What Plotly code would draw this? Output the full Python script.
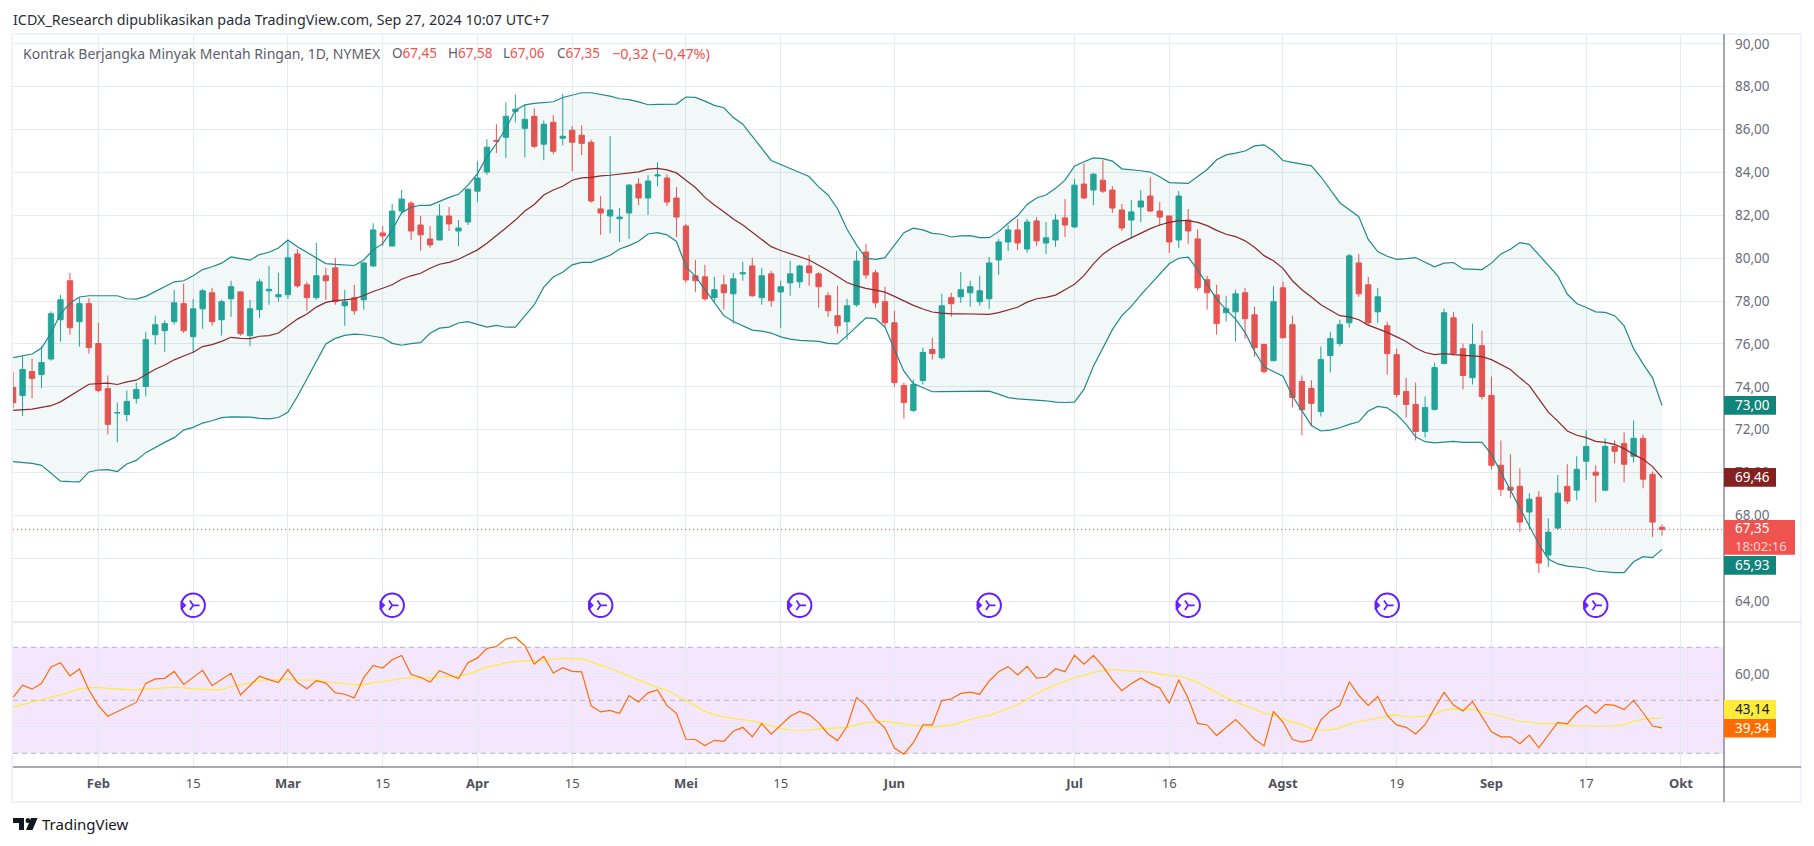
import pandas as pd
import plotly.graph_objects as go

# ---- trading calendar -------------------------------------------------
holidays = ["2024-02-19", "2024-03-29", "2024-05-27", "2024-06-19", "2024-07-04", "2024-09-02"]
dates = [d.strftime("%Y-%m-%d") for d in pd.bdate_range("2024-01-19", "2024-10-10") if d.strftime("%Y-%m-%d") not in holidays]

tick_dates = ["2024-02-01", "2024-02-15", "2024-03-01", "2024-03-15", "2024-04-01", "2024-04-15", "2024-05-01", "2024-05-15",
              "2024-06-03", "2024-07-01", "2024-07-16", "2024-08-01", "2024-08-19", "2024-09-03", "2024-09-17", "2024-10-01"]
tick_labels = ["<b>Feb</b>", "15", "<b>Mar</b>", "15", "<b>Apr</b>", "15", "<b>Mei</b>", "15",
               "<b>Jun</b>", "<b>Jul</b>", "16", "<b>Agst</b>", "19", "<b>Sep</b>", "17", "<b>Okt</b>"]
price_ticks = [64, 66, 68, 70, 72, 74, 76, 78, 80, 82, 84, 86, 88, 90]
price_tick_labels = ["64,00", "", "68,00", "70,00", "72,00", "74,00", "76,00", "78,00", "80,00", "82,00", "84,00", "86,00", "88,00", "90,00"]
rsi_ticks = [40, 60]
rsi_tick_labels = ["", "60,00"]

# ---- OHLC ---------------------------------------------------------------
opens = [73.97,73.6,74.71,74.57,75.30,77.13,78.95,77.04,77.88,76.02,
73.92,72.78,72.71,73.46,74.02,76.43,76.62,77.04,77.88,76.34,
77.64,78.39,77.13,78.11,78.43,76.39,77.6,78.48,78.2,78.3,
80.2,78.76,78.16,79.18,79.55,77.78,78.16,78.06,79.64,81.18,
80.57,82.2,82.57,81.55,80.9,80.85,81.97,81.27,81.69,83.13,
84.02,85.5,85.64,86.85,86.06,86.62,85.32,86.34,85.6,85.97,
85.74,85.41,82.3,81.97,81.84,82.11,83.46,82.81,83.84,83.74,
82.81,81.5,79.18,79.13,78.16,78.76,78.34,79.27,79.64,78.16,
79.27,78.43,78.85,78.9,79.64,79.27,78.25,77.32,77.04,77.83,
80.29,79.32,77.97,76.99,74.06,72.9,74.29,75.74,75.36,78.16,
78.2,78.39,77.97,78.11,79.92,80.76,81.32,80.43,81.74,80.71,
80.85,81.88,81.46,83.46,83.18,83.64,83.18,82.25,81.78,82.39,
82.9,82.2,81.97,80.85,81.78,80.9,79.0,78.29,77.46,77.5,
78.39,77.36,75.97,75.22,78.62,76.9,74.25,73.93,72.85,75.46,
76.02,76.99,79.78,78.76,77.5,76.85,75.5,73.78,73.18,71.92,
72.95,75.09,77.22,75.78,74.43,75.92,73.6,70.34,69.32,69.36,
68.16,68.85,66.15,67.41,69.36,69.18,70.53,70.02,69.18,71.22,
71.36,70.76,71.6,69.92,67.45]
highs = [74.68,75.43,75.32,75.89,77.52,78.29,79.32,78.14,78.14,76.99,
74.53,73.27,73.83,74.2,76.57,77.32,77.1,78.53,78.81,78.1,
78.57,78.62,78.06,78.95,78.45,78.06,79.04,79.64,79.32,80.85,
80.43,78.9,80.71,79.55,80.02,78.53,78.76,79.8,81.63,81.5,
82.53,83.18,82.67,81.97,81.5,82.53,82.39,81.78,83.25,84.53,
85.55,86.25,87.27,87.64,87.13,86.99,86.43,86.67,87.67,86.16,
86.2,85.53,82.9,85.69,82.34,83.46,83.74,83.88,84.48,83.92,
83.32,81.6,79.92,79.69,79.13,79.22,79.32,79.83,80.02,79.55,
79.41,78.95,79.87,79.69,80.15,79.36,78.43,78.71,78.11,80.34,
80.67,79.46,78.67,77.55,74.2,74.34,75.83,76.29,78.34,78.39,
79.36,78.95,79.18,80.06,80.9,81.55,81.83,81.83,81.92,81.69,
82.06,82.76,83.69,84.43,83.97,84.57,83.36,82.53,82.71,83.18,
83.78,82.62,81.97,83.13,82.29,81.35,79.18,78.76,78.25,78.53,
78.62,77.74,76.02,78.71,78.9,77.32,74.53,74.31,75.88,76.57,
77.13,80.2,80.2,79.13,78.62,77.04,75.78,74.43,74.2,73.55,
75.13,77.64,77.5,76.02,76.95,76.62,74.48,71.5,70.85,70.2,
69.04,69.13,67.87,69.88,70.39,70.76,71.97,70.34,71.6,71.5,
71.88,72.43,71.78,70.06,67.58]
lows = [73.0,72.64,73.46,73.95,75.22,76.11,76.43,75.88,75.55,73.74,
71.78,71.41,72.39,73.22,73.55,75.97,75.63,76.9,76.51,75.58,
76.71,76.85,76.39,77.27,76.39,75.89,77.22,77.83,77.97,78.11,
78.62,77.55,78.06,78.06,77.83,76.85,77.36,77.6,79.6,80.57,
80.55,82.06,80.85,80.34,80.48,80.85,81.27,80.57,81.55,82.62,
83.88,84.91,84.67,86.34,84.71,85.13,84.57,84.85,85.26,84.06,
84.81,82.59,81.09,81.16,80.76,80.9,82.48,82.02,83.36,82.43,
80.99,78.85,78.43,78.02,77.97,77.6,76.95,78.95,78.2,77.83,
77.74,76.76,78.25,78.62,78.71,77.69,77.27,76.48,76.2,77.74,
79.04,77.69,76.76,74.01,72.52,72.82,74.11,75.27,75.27,77.27,
77.92,77.74,77.78,77.64,79.22,80.34,80.39,80.25,80.57,80.2,
80.53,80.99,81.41,82.76,82.48,83.04,82.11,81.27,80.95,81.69,
82.16,81.5,80.25,80.48,80.67,78.5,77.6,76.43,77.04,76.11,
76.25,75.41,74.62,75.2,76.27,73.04,71.74,72.2,72.62,74.67,
75.88,76.76,78.2,76.85,76.99,74.57,73.5,72.57,71.5,71.64,
72.9,75.05,75.46,73.88,74.11,73.41,70.15,68.9,68.81,67.22,
67.36,65.32,65.6,67.32,68.53,68.71,69.64,68.62,69.15,70.43,
69.55,70.48,69.27,67.0,67.06]
closes = [73.26,74.81,74.39,75.13,77.41,78.06,76.76,77.88,75.83,73.83,
72.25,72.8,73.32,73.88,76.2,76.9,76.95,77.92,76.62,77.64,
78.48,77.04,77.97,78.67,76.48,77.64,78.9,78.55,78.3,80.02,
78.71,78.16,79.18,78.95,77.97,77.97,77.55,79.78,81.32,81.04,
82.2,82.76,81.27,81.09,80.62,81.97,81.6,81.41,83.22,83.74,
85.18,85.46,86.62,86.95,86.48,85.22,86.25,84.99,85.69,85.41,
85.36,82.67,82.11,82.25,81.92,83.41,82.81,83.6,83.88,82.62,
81.92,78.99,78.95,78.11,78.53,78.39,79.04,79.32,78.25,79.18,
78.02,78.67,79.27,79.64,79.32,78.67,77.55,76.85,77.78,79.87,
79.22,77.92,76.99,74.2,73.27,74.11,75.6,75.55,77.78,77.88,
78.53,78.67,78.48,79.78,80.76,81.32,80.71,81.69,80.81,80.95,
81.78,81.55,83.41,82.81,83.92,83.13,82.34,81.41,82.16,82.67,
82.2,81.92,80.76,82.9,81.27,78.62,78.39,76.95,77.64,78.34,
77.18,75.83,74.71,77.97,76.29,73.5,72.93,73.23,75.27,76.25,
76.9,80.11,78.34,76.99,78.2,75.55,73.64,73.18,71.92,73.04,
74.9,77.46,75.55,74.53,75.97,73.55,70.34,69.22,69.18,67.69,
68.76,65.78,67.22,69.04,68.67,70.15,71.22,69.88,71.22,70.99,
70.39,71.6,69.69,67.69,67.35]

# ---- Bollinger bands ----------------------------------------------------
bb_upper = [75.36,75.46,75.53,75.81,76.51,77.41,77.9,78.19,78.25,78.25,
78.25,78.25,78.11,78.09,78.22,78.45,78.65,78.9,78.95,79.18,
79.47,79.6,79.77,80.06,79.98,79.91,80.17,80.28,80.48,80.85,
80.54,80.28,80.05,79.75,79.71,79.69,79.66,79.92,80.4,80.68,
81.32,82.12,82.37,82.47,82.47,82.65,82.84,82.98,83.41,83.95,
84.73,85.35,86.05,86.9,87.15,87.22,87.27,87.3,87.5,87.61,
87.72,87.72,87.64,87.56,87.44,87.4,87.29,87.16,87.18,87.18,
87.19,87.52,87.5,87.33,87.13,87.02,86.56,86.25,85.69,85.16,
84.56,84.37,84.2,84.0,83.81,83.33,82.95,82.31,81.35,80.62,
80.0,79.95,80.03,80.62,81.19,81.4,81.32,81.16,81.12,80.99,
81.04,81.05,80.96,80.96,81.24,81.63,81.98,82.51,82.81,82.95,
83.26,83.64,84.29,84.5,84.68,84.65,84.53,84.17,84.14,84.08,
84.02,83.8,83.53,83.52,83.49,83.81,84.14,84.59,84.82,84.9,
85.0,85.24,85.29,85.0,84.56,84.47,84.4,84.31,83.8,83.21,
82.59,82.26,81.94,80.88,80.31,80.09,79.95,79.98,80.03,79.81,
79.6,79.77,79.8,79.5,79.47,79.47,79.77,80.2,80.42,80.73,
80.65,80.17,79.64,79.18,78.33,77.89,77.7,77.5,77.47,77.32,
76.85,75.78,75.07,74.42,73.13]
bb_basis = [72.9,72.93,72.96,73.04,73.12,73.3,73.58,73.86,74.12,74.15,
74.17,74.11,74.23,74.31,74.56,74.82,75.02,75.26,75.44,75.61,
75.88,75.97,76.12,76.31,76.26,76.25,76.36,76.39,76.51,76.85,
77.16,77.4,77.72,77.94,78.02,78.06,78.11,78.26,78.45,78.6,
78.76,79.02,79.18,79.3,79.53,79.72,79.81,79.95,80.16,80.39,
80.7,81.04,81.41,81.78,82.2,82.51,82.95,83.18,83.36,83.64,
83.75,83.77,83.84,83.87,83.92,83.97,84.03,84.16,84.19,84.12,
83.98,83.64,83.3,82.84,82.48,82.17,81.83,81.55,81.21,80.9,
80.54,80.36,80.22,80.08,79.92,79.67,79.43,79.15,78.87,78.71,
78.59,78.51,78.42,78.22,78.0,77.8,77.63,77.49,77.44,77.4,
77.41,77.4,77.36,77.38,77.46,77.57,77.71,77.95,78.11,78.17,
78.28,78.53,78.79,79.19,79.74,80.19,80.5,80.74,80.96,81.19,
81.38,81.55,81.67,81.75,81.75,81.67,81.52,81.3,81.12,81.01,
80.81,80.51,80.12,79.88,79.53,78.95,78.53,78.19,77.83,77.57,
77.32,77.26,77.13,76.88,76.71,76.54,76.33,76.12,75.81,75.6,
75.5,75.55,75.5,75.46,75.43,75.41,75.27,75.04,74.81,74.42,
74.06,73.44,72.82,72.4,71.94,71.74,71.63,71.46,71.41,71.32,
71.12,70.85,70.62,70.28,69.76]
bb_lower = [70.51,70.48,70.43,70.34,69.98,69.6,69.58,69.57,70.03,70.12,
70.14,70.05,70.4,70.57,70.93,71.19,71.41,71.63,71.98,72.11,
72.31,72.42,72.56,72.6,72.6,72.59,72.53,72.51,72.57,72.81,
73.55,74.37,75.19,76.0,76.26,76.4,76.46,76.43,76.36,76.29,
76.03,75.94,76.02,76.06,76.5,76.74,76.79,76.98,77.04,76.9,
76.79,76.87,76.78,76.79,77.29,77.83,78.65,79.12,79.35,79.69,
79.81,79.81,79.97,80.14,80.43,80.59,80.79,81.13,81.19,81.09,
80.78,79.61,79.15,78.53,77.9,77.32,77.05,76.85,76.65,76.6,
76.51,76.33,76.23,76.17,76.14,76.12,76.03,76.0,76.39,76.82,
77.22,77.18,76.79,75.74,74.73,74.15,73.97,73.77,73.78,73.78,
73.8,73.8,73.8,73.8,73.66,73.5,73.44,73.41,73.4,73.35,
73.29,73.27,73.29,73.88,74.96,75.81,76.67,77.32,77.75,78.29,
78.76,79.27,79.74,80.0,80.05,79.46,78.76,78.09,77.6,77.16,
76.54,75.66,74.93,74.73,74.5,73.57,72.87,72.2,71.94,71.98,
72.09,72.25,72.37,72.87,73.09,73.02,72.71,72.25,71.67,71.44,
71.39,71.43,71.46,71.41,71.41,71.41,70.85,70.0,69.15,68.37,
67.52,66.67,65.97,65.74,65.64,65.58,65.55,65.41,65.36,65.33,
65.33,65.84,66.08,66.03,66.42]

# ---- RSI ------------------------------------------------------------------
rsi = [51.1,55.7,54.2,56.4,62.6,64.2,59.2,61.8,53.9,48.0,
44.0,45.8,47.5,49.2,56.4,58.1,58.3,60.9,56.0,58.7,
61.3,55.5,57.9,60.2,52.0,55.4,59.1,57.8,56.7,61.6,
56.7,54.4,57.4,56.5,52.8,52.3,50.9,58.6,63.2,62.2,
65.3,66.9,59.7,58.7,56.8,61.2,59.6,58.2,64.2,66.0,
69.6,70.3,73.1,73.8,70.6,63.7,66.6,60.3,62.3,60.9,
60.7,47.9,45.6,46.2,45.0,51.8,49.4,52.8,53.9,48.0,
45.1,35.3,35.2,32.9,34.9,34.5,38.3,39.8,36.2,41.2,
37.2,40.6,44.0,45.8,44.6,41.6,37.3,34.8,40.1,51.0,
48.1,42.8,39.6,32.0,29.7,34.0,40.7,40.7,49.9,50.5,
52.6,53.1,52.3,57.3,60.8,62.7,59.6,62.8,58.4,58.7,
61.9,60.8,67.0,63.6,67.0,62.8,57.7,53.6,56.3,58.4,
56.3,54.7,48.9,57.7,50.8,41.3,40.7,36.7,39.7,42.7,
39.2,35.3,32.8,45.8,41.7,35.2,34.2,35.0,42.6,46.0,
48.0,57.0,51.8,48.1,51.4,44.3,40.7,39.8,37.3,40.8,
47.0,53.0,48.2,46.0,49.5,43.8,38.1,36.2,36.2,33.6,
36.9,32.1,36.9,41.7,41.1,45.3,48.0,45.0,48.5,48.1,
46.5,50.0,45.3,40.3,39.6]
rsi_ma = [47.4,48.5,49.4,50.1,51.1,52.0,53.1,54.3,54.8,54.8,
54.5,54.3,54.0,53.9,54.3,54.4,54.7,55.0,54.7,54.3,
54.2,53.9,54.0,55.2,55.8,56.5,57.4,57.8,57.9,57.9,
57.7,57.6,57.6,57.0,56.7,56.3,55.9,55.9,56.7,57.0,
57.7,58.3,58.4,58.3,58.4,58.8,58.9,59.1,59.9,61.1,
62.5,63.2,64.1,64.7,65.0,65.0,65.1,65.5,65.7,65.7,
65.7,64.6,63.2,62.1,60.6,59.3,57.7,56.2,54.8,53.8,
52.0,49.9,47.9,45.8,44.5,43.7,43.1,42.7,42.2,41.4,
40.3,39.4,38.8,38.7,38.7,39.2,39.3,39.4,39.7,40.8,
41.6,41.8,42.1,41.6,41.1,40.4,40.1,39.9,40.2,40.7,
41.6,42.8,43.8,44.3,45.5,46.9,48.2,50.4,52.5,54.3,
55.8,57.4,58.6,59.3,60.6,61.2,61.6,61.3,61.1,60.8,
60.6,59.9,59.3,59.1,58.1,56.8,54.9,53.1,51.0,49.5,
48.1,46.6,45.2,44.5,43.2,41.7,40.9,39.3,38.7,38.9,
39.6,41.1,41.9,42.5,43.3,44.1,44.5,43.8,43.7,44.1,
44.8,46.4,46.7,46.6,46.6,45.6,44.7,43.7,42.8,42.1,
41.8,41.2,41.2,41.2,40.8,40.3,40.3,40.2,40.2,40.4,
40.9,42.1,42.8,43.2,43.14]

# ---- dividend/event markers ---------------------------------------------
event_dates = ["2024-02-15", "2024-03-18", "2024-04-18", "2024-05-17", "2024-06-17", "2024-07-18", "2024-08-16", "2024-09-18"]
event_level = [63.81] * len(event_dates)

last_price = 67.35
bar_dates = dates[:len(closes)]

for series in (opens, highs, lows, closes, bb_upper, bb_basis, bb_lower, rsi, rsi_ma):
    assert len(series) == 175, len(series)

# ---- colours ---------------------------------------------------------------
UP, DOWN = "#26a69a", "#ef5350"
BAND = "#20898c"
BASIS = "#88292e"
GRID = "#e3ebf1"
AXIS = "#50535e"
TXT = "#5d606b"
FONT = "Noto Sans"

W, H = 1814, 846
L, R, T, B = 13, 1724, 34, 767
SPLIT = 622


def xp(px):
    return (px - L) / (R - L)


def yp(py):
    return (B - py) / (B - T)


fig = go.Figure()
fig.add_trace(go.Candlestick(x=bar_dates, open=opens, high=highs, low=lows, close=closes, whiskerwidth=0,
                             increasing=dict(line=dict(color=UP, width=1), fillcolor=UP),
                             decreasing=dict(line=dict(color=DOWN, width=1), fillcolor=DOWN),
                             hoverinfo="skip", showlegend=False))
fig.add_trace(go.Scatter(x=bar_dates, y=bb_lower, mode="lines", line=dict(color=BAND, width=1.2), showlegend=False))
fig.add_trace(go.Scatter(x=bar_dates, y=bb_upper, mode="lines", line=dict(color=BAND, width=1.2), fill="tonexty",
                         fillcolor="rgba(0,120,120,0.05)", showlegend=False))
fig.add_trace(go.Scatter(x=bar_dates, y=bb_basis, mode="lines", line=dict(color=BASIS, width=1.2), showlegend=False))
fig.add_trace(go.Scatter(x=event_dates, y=event_level, mode="markers", showlegend=False,
                         marker=dict(symbol="circle-open", size=23.5, color="#651fff", line=dict(width=2, color="#651fff"))))
fig.add_trace(go.Scatter(x=event_dates, y=event_level, mode="markers", showlegend=False,
                         marker=dict(symbol="y-right-open", size=8, color="#651fff", line=dict(width=1.7, color="#651fff"))))
fig.add_trace(go.Scatter(x=event_dates, y=event_level, mode="markers", showlegend=False,
                         marker=dict(symbol="arrow-wide-open", angle=90, standoff=8, size=6, color="#651fff",
                                     line=dict(width=1.7, color="#651fff"))))
fig.add_trace(go.Scatter(x=bar_dates, y=rsi_ma, mode="lines", xaxis="x2", yaxis="y2", line=dict(color="#ffeb3b", width=1.2), showlegend=False))
fig.add_trace(go.Scatter(x=bar_dates, y=rsi, mode="lines", xaxis="x2", yaxis="y2", line=dict(color="#ff6d00", width=1.2), showlegend=False))

x_range = [-0.01, 180.54]
split_frac = (B - SPLIT) / (B - T)
x_common = dict(type="category", categoryorder="array", categoryarray=dates, range=x_range, tickmode="array",
                tickvals=tick_dates, showgrid=True, gridcolor=GRID, gridwidth=1, zeroline=False, showline=False, ticks="")
fig.update_layout(
    width=W, height=H, margin=dict(l=L, r=W - R, t=T, b=H - B, pad=0, autoexpand=False),
    paper_bgcolor="white", plot_bgcolor="white", separators=",.",
    font=dict(family=FONT, size=13, color=TXT), showlegend=False, hovermode=False, boxgap=0.2,
    xaxis=dict(x_common, domain=[0, 1], anchor="y", showticklabels=False, rangeslider=dict(visible=False)),
    xaxis2=dict(x_common, domain=[0, 1], anchor="y2", ticktext=tick_labels, showticklabels=True,
                tickfont=dict(family=FONT, size=13, color="#50535e"), ticklabelstandoff=7),
    yaxis=dict(domain=[split_frac, 1], anchor="x", side="right", range=[63.03, 90.46], tickmode="array", tickvals=price_ticks,
               ticktext=price_tick_labels, showgrid=True, gridcolor=GRID, gridwidth=1, zeroline=False, showline=False, ticks="",
               tickfont=dict(family=FONT, size=13.5, color="#6a6d78"), ticklabelstandoff=10),
    yaxis2=dict(domain=[0, split_frac], anchor="x2", side="right", range=[24.83, 79.55], tickmode="array", tickvals=rsi_ticks,
                ticktext=rsi_tick_labels, showgrid=True, gridcolor=GRID, gridwidth=1, zeroline=False, showline=False, ticks="",
                tickfont=dict(family=FONT, size=13.5, color="#6a6d78"), ticklabelstandoff=10),
)

shapes = []
# RSI background and levels
shapes.append(dict(type="rect", xref="paper", yref="y2", x0=0, x1=1, y0=30, y1=70, fillcolor="rgba(156,39,236,0.11)", line_width=0, layer="below"))
for lvl in (70, 50, 30):
    shapes.append(dict(type="line", xref="paper", yref="y2", x0=0, x1=1, y0=lvl, y1=lvl, line=dict(color="#b8b2c0", width=1, dash="5px,4px"), layer="below"))
# last price dotted line
shapes.append(dict(type="line", xref="paper", yref="y", x0=0, x1=1, y0=last_price, y1=last_price, line=dict(color=DOWN, width=1, dash="1px,3px"), layer="above"))
# frame, axis lines, pane divider
shapes.append(dict(type="rect", xref="paper", yref="paper", x0=xp(12), x1=xp(1801), y0=yp(802), y1=yp(34), line=dict(color="#f0f3fa", width=2), layer="above"))
shapes.append(dict(type="line", xref="paper", yref="paper", x0=xp(13), x1=xp(1801), y0=yp(SPLIT), y1=yp(SPLIT), line=dict(color="#e0e3eb", width=1.5), layer="above"))
shapes.append(dict(type="line", xref="paper", yref="paper", x0=xp(13), x1=xp(1801), y0=yp(B), y1=yp(B), line=dict(color=AXIS, width=1), layer="above"))
shapes.append(dict(type="line", xref="paper", yref="paper", x0=xp(R), x1=xp(R), y0=yp(802), y1=yp(34), line=dict(color=AXIS, width=1), layer="above"))

anns = []


def label(x, y, text, color, size=13.5, anchor="left"):
    anns.append(dict(xref="paper", yref="paper", x=xp(x), y=yp(y), text=text, showarrow=False, xanchor=anchor, yanchor="middle",
                     font=dict(family=FONT, size=size, color=color), borderpad=0, borderwidth=0))


# axis price tags: (top, bottom, right, background, text colour, text)
tags = [(396, 414.7, 1776, "#0f857c", "#ffffff", "73,00"),
        (468, 486.7, 1776, "#842121", "#ffffff", "69,46"),
        (556, 574.7, 1776, "#0f857c", "#ffffff", "65,93"),
        (700, 718.7, 1776, "#ffeb3b", "#131722", "43,14"),
        (719, 737.6, 1776, "#ff6d00", "#ffffff", "39,34")]
for top, bottom, right, bg, fg, txt in tags:
    shapes.append(dict(type="rect", xref="paper", yref="paper", x0=xp(R), x1=xp(right), y0=yp(bottom), y1=yp(top), fillcolor=bg, line_width=0, layer="above"))
    label(1735, (top + bottom) / 2, txt, fg)
shapes.append(dict(type="rect", xref="paper", yref="paper", x0=xp(R), x1=xp(1795), y0=yp(554.7), y1=yp(520), fillcolor=DOWN, line_width=0, layer="above"))
label(1735, 528, "67,35", "#ffffff", size=13.5)
label(1735, 546, "18:02:16", "rgba(255,255,255,0.75)", size=13)

# header
label(13, 20, "ICDX_Research dipublikasikan pada TradingView.com, Sep 27, 2024 10:07 UTC+7", "#2a2e39", size=14.3)
label(23, 53, "Kontrak Berjangka Minyak Mentah Ringan, 1D, NYMEX", TXT, size=14)
for x, key, val in ((391.5, "O", "67,45"), (447.5, "H", "67,58"), (503.3, "L", "67,06"), (557, "C", "67,35")):
    label(x, 53, key + '<span style="color:%s">%s</span>' % (DOWN, val), TXT, size=13.5)
label(612, 53, "−0,32 (−0,47%)", DOWN, size=14.4)

# TradingView logo
logo_dark = "#131722"
paths = [[(13, 818), (24, 818), (24, 830), (19, 830), (19, 823), (13, 823)],
         [(31, 818), (37.6, 818), (32.5, 830), (26, 830)]]
for poly in paths:
    d = "M" + " L".join("%.5f,%.5f" % (xp(a), yp(b)) for a, b in poly) + " Z"
    shapes.append(dict(type="path", xref="paper", yref="paper", path=d, fillcolor=logo_dark, line_width=0, layer="above"))
shapes.append(dict(type="circle", xref="paper", yref="paper", x0=xp(25.5), x1=xp(30.3), y0=yp(823), y1=yp(818), fillcolor=logo_dark, line_width=0, layer="above"))
label(42, 824, "TradingView", logo_dark, size=15)

fig.update_layout(shapes=shapes, annotations=anns)
fig.write_html("out.html", config=dict(displayModeBar=False), post_script="document.body.style.margin='0';document.body.style.overflow='hidden';")
